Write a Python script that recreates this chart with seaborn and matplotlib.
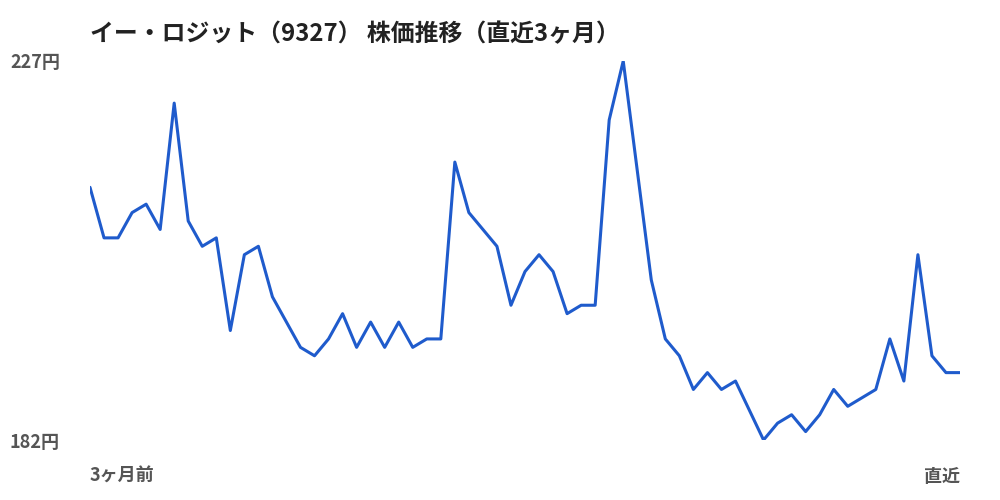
import matplotlib
matplotlib.use('Agg')
import matplotlib.pyplot as plt
import matplotlib.transforms as mtransforms
import seaborn as sns
import pandas as pd

# daily closing prices, oldest first (yen)
prices = [212, 206, 206, 209, 210, 207, 222, 208, 205, 206,
          195, 204, 205, 199, 196, 193, 192, 194, 197, 193,
          196, 193, 196, 193, 194, 194, 215, 209, 207, 205,
          198, 202, 204, 202, 197, 198, 198, 220, 227, 214,
          201, 194, 192, 188, 190, 188, 189, 185.5, 182, 184,
          185, 183, 185, 188, 186, 187, 188, 194, 189, 204,
          192, 190, 190]
y_ticks = [182, 227]
x_labels = ['3ヶ月前', '直近']
title = 'イー・ロジット（9327） 株価推移（直近3ヶ月）'

df = pd.DataFrame({'day': range(len(prices)), 'price': prices})

sns.set_style('white')
plt.rcParams['font.family'] = ['Noto Sans CJK JP', 'DejaVu Sans']

fig = plt.figure(figsize=(10, 5), dpi=100)
ax = fig.add_axes([0.09, 0.12, 0.87, 0.758])

sns.lineplot(data=df, x='day', y='price', ax=ax, color='#1f5bcc', linewidth=2.2)

ax.set_xlim(0, len(prices) - 1)
ax.set_ylim(min(y_ticks), max(y_ticks))
sns.despine(ax=ax, left=True, bottom=True)
ax.set_xlabel('')
ax.set_ylabel('')
ax.set_xticks([])
ax.set_yticks([])

grey = '#555555'
# y labels at the left edge of the figure, nudged down a couple of pixels
nudge = mtransforms.ScaledTranslation(0, -2 / 100, fig.dpi_scale_trans)
for v in y_ticks:
    ax.text(-0.092, v, f'{v}円', transform=ax.get_yaxis_transform() + nudge,
            ha='left', va='center', fontsize=13, fontweight='bold', color=grey)

ax.text(0, -0.095, x_labels[0], transform=ax.transAxes, ha='left', va='center',
        fontsize=13, fontweight='bold', color=grey)
ax.text(1, -0.095, x_labels[1], transform=ax.transAxes, ha='right', va='center',
        fontsize=13, fontweight='bold', color=grey)

fig.text(0.09, 0.932, title, ha='left', va='center', fontsize=17.2,
         fontweight='bold', color='#222222')

fig.savefig('out.png', dpi=100)
